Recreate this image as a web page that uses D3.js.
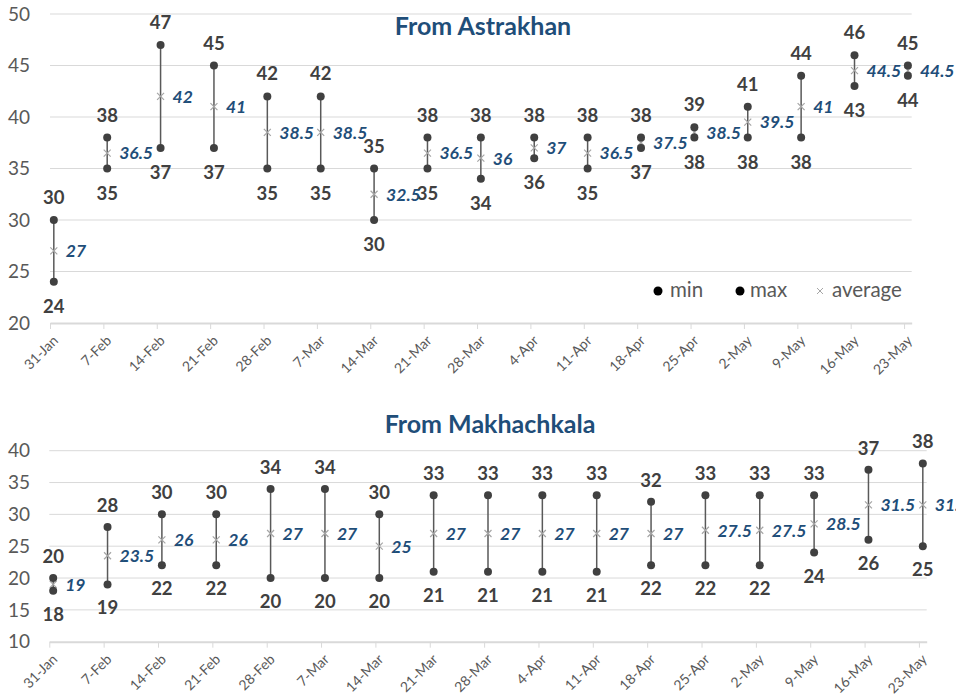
<!DOCTYPE html>
<html>
<head>
<meta charset="utf-8">
<script src="https://cdn.jsdelivr.net/npm/d3@7"></script>
<style>
  body { margin: 0; background: #fff; }
  svg { display: block; font-family: Lato, "Open Sans", sans-serif; }
</style>
</head>
<body>
<div id="graph"></div>
<script>
// weekly dates shown on both x axes
const dates = ["2022-01-31", "2022-02-07", "2022-02-14", "2022-02-21", "2022-02-28",
               "2022-03-07", "2022-03-14", "2022-03-21", "2022-03-28", "2022-04-04",
               "2022-04-11", "2022-04-18", "2022-04-25", "2022-05-02", "2022-05-09",
               "2022-05-16", "2022-05-23"];

const astrakhanMin = [24, 35, 37, 37, 35, 35, 30, 35, 34, 36, 35, 37, 38, 38, 38, 43, 44];
const astrakhanMax = [30, 38, 47, 45, 42, 42, 35, 38, 38, 38, 38, 38, 39, 41, 44, 46, 45];
const astrakhanAvg = [27, 36.5, 42, 41, 38.5, 38.5, 32.5, 36.5, 36, 37, 36.5, 37.5, 38.5, 39.5, 41, 44.5, 44.5];
const astrakhanTicks = [20, 25, 30, 35, 40, 45, 50];

const makhachkalaMin = [18, 19, 22, 22, 20, 20, 20, 21, 21, 21, 21, 22, 22, 22, 24, 26, 25];
const makhachkalaMax = [20, 28, 30, 30, 34, 34, 30, 33, 33, 33, 33, 32, 33, 33, 33, 37, 38];
const makhachkalaAvg = [19, 23.5, 26, 26, 27, 27, 25, 27, 27, 27, 27, 27, 27.5, 27.5, 28.5, 31.5, 31.5];
const makhachkalaTicks = [10, 15, 20, 25, 30, 35, 40];

const legendNames = ["min", "max", "average"];

const width = 956, height = 698;
const parseDate = d3.timeParse("%Y-%m-%d");
const formatDate = d3.timeFormat("%-d-%b");
const dateObjs = dates.map(parseDate);

let svg = d3.select("#graph")
    .append("svg")
    .attr("width", width)
    .attr("height", height);

svg.append("rect")
    .attr("width", width)
    .attr("height", height)
    .attr("fill", "#fff");

function renderChart(opt) {
    let g = svg.append("g");

    // Excel date axis: each day is a slot, points sit in the middle of their day
    let x = d3.scaleTime()
        .domain([dateObjs[0], d3.timeDay.offset(dateObjs[dateObjs.length - 1], 1)])
        .range([opt.left, opt.right]);
    let xMid = d => x(d3.timeHour.offset(d, 12));

    let y = d3.scaleLinear()
        .domain([opt.ticks[0], opt.ticks[opt.ticks.length - 1]])
        .range([opt.bottom, opt.top]);

    // gridlines
    g.selectAll(".grid")
        .data(opt.ticks.slice(1))
        .enter()
        .append("line")
        .attr("x1", opt.left)
        .attr("x2", opt.right)
        .attr("y1", d => y(d))
        .attr("y2", d => y(d))
        .attr("stroke", "#d9d9d9")
        .attr("stroke-width", 1);

    // y tick labels
    g.selectAll(".ylab")
        .data(opt.ticks)
        .enter()
        .append("text")
        .attr("x", 30)
        .attr("y", d => y(d))
        .attr("dy", "0.35em")
        .style("text-anchor", "end")
        .style("font-size", "19px")
        .attr("fill", "#595959")
        .text(d => d);

    // x axis
    let xAxis = g.append("g")
        .attr("transform", `translate(0,${opt.bottom})`)
        .call(d3.axisBottom(x).tickValues(dateObjs).tickFormat(formatDate).tickSize(6).tickSizeOuter(0));
    xAxis.select(".domain").attr("stroke", "#d9d9d9").attr("stroke-width", 2);
    xAxis.selectAll(".tick line").attr("stroke", "#d9d9d9").attr("stroke-width", 1);
    xAxis.selectAll(".tick text")
        .attr("x", 0)
        .attr("y", 0)
        .attr("dy", "0.35em")
        .attr("transform", "translate(5,15) rotate(-45)")
        .style("text-anchor", "end")
        .style("font-size", "14px")
        .style("font-family", "Lato, sans-serif")
        .attr("fill", "#595959");

    // high-low lines
    g.selectAll(".hl")
        .data(dateObjs)
        .enter()
        .append("line")
        .attr("x1", d => xMid(d))
        .attr("x2", d => xMid(d))
        .attr("y1", (d, i) => y(opt.min[i]))
        .attr("y2", (d, i) => y(opt.max[i]))
        .attr("stroke", "#595959")
        .attr("stroke-width", 1.5);

    // average markers (x)
    let s = 3.5;
    g.selectAll(".avg")
        .data(dateObjs)
        .enter()
        .append("path")
        .attr("d", (d, i) => {
            let cx = xMid(d), cy = y(opt.avg[i]);
            return `M${cx - s},${cy - s}L${cx + s},${cy + s}M${cx - s},${cy + s}L${cx + s},${cy - s}`;
        })
        .attr("stroke", "#a6a6a6")
        .attr("stroke-width", 1.2)
        .attr("fill", "none");

    // min / max points
    [opt.min, opt.max].forEach(vals => {
        g.selectAll(null)
            .data(dateObjs)
            .enter()
            .append("circle")
            .attr("cx", d => xMid(d))
            .attr("cy", (d, i) => y(vals[i]))
            .attr("r", 4)
            .attr("fill", "#404040");
    });

    // max labels above
    g.selectAll(null)
        .data(dateObjs)
        .enter()
        .append("text")
        .attr("x", d => xMid(d))
        .attr("y", (d, i) => y(opt.max[i]) - opt.above)
        .style("text-anchor", "middle")
        .style("font-size", "18.5px")
        .style("font-weight", "bold")
        .attr("fill", "#404040")
        .text((d, i) => opt.max[i]);

    // min labels below
    g.selectAll(null)
        .data(dateObjs)
        .enter()
        .append("text")
        .attr("x", d => xMid(d))
        .attr("y", (d, i) => y(opt.min[i]) + opt.below)
        .style("text-anchor", "middle")
        .style("font-size", "18.5px")
        .style("font-weight", "bold")
        .attr("fill", "#404040")
        .text((d, i) => opt.min[i]);

    // average labels to the right
    g.selectAll(null)
        .data(dateObjs)
        .enter()
        .append("text")
        .attr("x", d => xMid(d) + 12)
        .attr("y", (d, i) => y(opt.avg[i]))
        .attr("dy", "0.36em")
        .style("text-anchor", "start")
        .style("font-size", "17.5px")
        .style("font-weight", "bold")
        .style("font-style", "italic")
        .attr("fill", "#1f4e79")
        .text((d, i) => opt.avg[i]);

    // title
    g.append("text")
        .attr("x", opt.titleX)
        .attr("y", opt.titleY)
        .style("text-anchor", "middle")
        .style("font-size", "25px")
        .style("font-weight", "bold")
        .attr("fill", "#1f4e79")
        .text(opt.title);

    if (opt.legend) {
        let lg = g.append("g");
        let lx = [658, 740, 820];
        let ly = 291;
        lg.selectAll(null)
            .data(legendNames.slice(0, 2))
            .enter()
            .append("circle")
            .attr("cx", (d, i) => lx[i])
            .attr("cy", ly)
            .attr("r", 4.5)
            .attr("fill", "#000");
        lg.append("path")
            .attr("d", `M${lx[2] - 3},${ly - 3}L${lx[2] + 3},${ly + 3}M${lx[2] - 3},${ly + 3}L${lx[2] + 3},${ly - 3}`)
            .attr("stroke", "#a6a6a6")
            .attr("stroke-width", 1);
        lg.selectAll(null)
            .data(legendNames)
            .enter()
            .append("text")
            .attr("x", (d, i) => lx[i] + (i == 1 ? 10 : 12))
            .attr("y", ly)
            .attr("dy", "0.3em")
            .style("font-size", "20.5px")
            .attr("fill", "#595959")
            .text(d => d);
    }
}

renderChart({
    title: "From Astrakhan", titleX: 483, titleY: 35,
    left: 50, right: 911.7, top: 14, bottom: 323,
    ticks: astrakhanTicks, min: astrakhanMin, max: astrakhanMax, avg: astrakhanAvg,
    above: 16, below: 31, legend: true
});

renderChart({
    title: "From Makhachkala", titleX: 490, titleY: 433,
    left: 49.3, right: 926.7, top: 450.7, bottom: 641.7,
    ticks: makhachkalaTicks, min: makhachkalaMin, max: makhachkalaMax, avg: makhachkalaAvg,
    above: 15, below: 30, legend: false
});
</script>
</body>
</html>
